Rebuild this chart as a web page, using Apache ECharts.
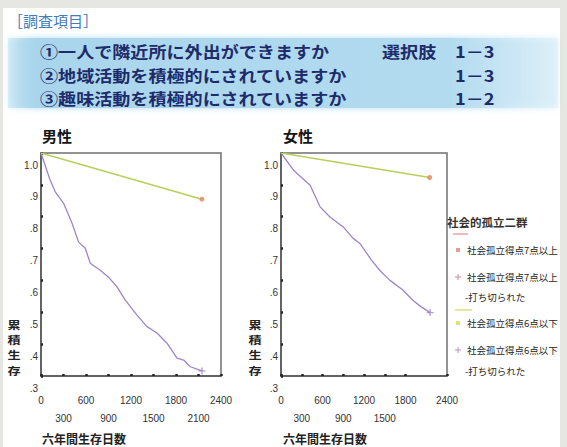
<!DOCTYPE html>
<html>
<head>
<meta charset="utf-8">
<script src="https://cdn.jsdelivr.net/npm/echarts@6/dist/echarts.min.js"></script>
<style>
html,body{margin:0;padding:0;background:#fff;}
#c{width:567px;height:447px;}
</style>
</head>
<body>
<div id="c"></div>
<script>
// ---- data ----
const xTicks = [0, 300, 600, 900, 1200, 1500, 1800, 2100, 2400];
const yTickLabels = ['.3', '.4', '.5', '.6', '.7', '.8', '.9', '1.0'];

const maleHighDays = [0, 114, 190, 301, 413, 500, 590, 657, 790, 897, 1013, 1124, 1280, 1413, 1547, 1680, 1813, 1902, 1991, 2146];
const maleHighSurv = [1.0, 0.920, 0.878, 0.842, 0.780, 0.721, 0.701, 0.654, 0.632, 0.611, 0.580, 0.538, 0.491, 0.455, 0.435, 0.403, 0.356, 0.350, 0.329, 0.316];
const maleLowDays = [0, 2146];
const maleLowSurv = [1.0, 0.855];

const femaleHighDays = [0, 181, 421, 565, 708, 900, 1043, 1140, 1308, 1427, 1571, 1762, 1906, 2027, 2156];
const femaleHighSurv = [1.0, 0.946, 0.899, 0.831, 0.799, 0.768, 0.732, 0.716, 0.664, 0.632, 0.601, 0.570, 0.538, 0.517, 0.499];
const femaleLowDays = [0, 2150];
const femaleLowSurv = [1.0, 0.923];

const panelTitles = ['男性', '女性'];
const yAxisTitle = '累積生存';
const xAxisTitle = '六年間生存日数';
const headerTitle = '［調査項目］';
const questions = ['①一人で隣近所に外出ができますか', '②地域活動を積極的にされていますか', '③趣味活動を積極的にされていますか'];
const choiceHead = '選択肢';
const choices = ['1－3', '1－3', '1－2'];
const legendTitle = '社会的孤立二群';
const legendLabels = ['社会孤立得点7点以上', '社会孤立得点7点以上', '-打ち切られた', '社会孤立得点6点以下', '社会孤立得点6点以下', '-打ち切られた'];

// ---- build ----
const zip = (a, b) => a.map((v, i) => [v, b[i]]);
const last = (a, b) => [[a[a.length - 1], b[b.length - 1]]];
const PLUS = 'path://M4,0H6V4H10V6H6V10H4V6H0V4H4Z';
const CJK = '"Noto Sans CJK JP", "Noto Sans CJK SC", sans-serif';
const NUM = '"Liberation Sans Narrow", "Liberation Sans", Arial, sans-serif';
const purple = '#9c86c8';
const green = '#b7d058';

const grids = [
  { left: 41, top: 153, width: 180, height: 223 },
  { left: 281, top: 153, width: 166, height: 223 }
].map(g => Object.assign(g, { show: true, borderColor: '#707070', borderWidth: 1.5, backgroundColor: 'transparent' }));

function xAxis(i) {
  return {
    gridIndex: i, type: 'value', min: 0, max: 2400, interval: 300,
    axisLine: { show: true, onZero: false, lineStyle: { color: '#555', width: 1.5 } },
    axisTick: { show: true, inside: true, length: 2, lineStyle: { color: '#222', width: 2.5 } },
    splitLine: { show: false },
    axisLabel: {
      margin: 15, fontSize: 10, lineHeight: 18, color: '#333', fontFamily: NUM, verticalAlign: 'top',
      showMinLabel: true, showMaxLabel: true, hideOverlap: false,
      formatter: (v) => { const k = xTicks.indexOf(Math.round(v)); return (k % 2 === 1 ? '\n' : '') + xTicks[k]; }
    }
  };
}
function yAxis(i) {
  return {
    gridIndex: i, type: 'value', min: 0.3, max: 1.0, interval: 0.1,
    axisLine: { show: true, lineStyle: { color: '#555', width: 1.5 } },
    axisTick: { show: true, inside: true, length: 2, lineStyle: { color: '#222', width: 2.5 } },
    splitLine: { show: false },
    axisLabel: {
      margin: 3, fontSize: 10, color: '#333', fontFamily: NUM, verticalAlign: 'top', padding: [7, 0, 0, 0],
      showMinLabel: true, showMaxLabel: true,
      formatter: (v) => yTickLabels[Math.round(v * 10) - 3]
    }
  };
}

function panelSeries(i, hd, hs, ld, ls) {
  return [
    { type: 'line', xAxisIndex: i, yAxisIndex: i, data: zip(hd, hs), symbol: 'none', lineStyle: { color: purple, width: 1.3 }, z: 3 },
    { type: 'line', xAxisIndex: i, yAxisIndex: i, data: zip(ld, ls), symbol: 'none', lineStyle: { color: green, width: 1.5 }, z: 3 },
    { type: 'scatter', xAxisIndex: i, yAxisIndex: i, data: last(hd, hs), symbol: PLUS, symbolSize: 7, itemStyle: { color: purple }, z: 4 },
    { type: 'scatter', xAxisIndex: i, yAxisIndex: i, data: last(ld, ls), symbol: 'circle', symbolSize: 5, itemStyle: { color: '#e58260' }, z: 4 }
  ];
}

const graphic = [
  { type: 'rect', shape: { x: 0, y: 0, width: 567, height: 447 }, style: { fill: '#e6e6e2' }, z: -10 },
  { type: 'rect', shape: { x: 3, y: 8, width: 557, height: 439 }, style: { fill: '#ffffff' }, z: -9 },
  { type: 'rect', shape: { x: 8, y: 38, width: 550, height: 70 },
    style: { fill: new echarts.graphic.LinearGradient(0, 0, 1, 0, [
      { offset: 0, color: 'rgba(170,215,238,0.35)' }, { offset: 0.05, color: '#a9d5ec' },
      { offset: 0.8, color: '#b2dbef' }, { offset: 1, color: 'rgba(215,238,248,0.4)' }]),
      shadowBlur: 6, shadowColor: 'rgba(170,215,238,0.9)' }, z: -8 },
  { type: 'text', x: 8, y: 20, style: { text: headerTitle, fontSize: 15, fill: '#3f7cbc', fontFamily: CJK, verticalAlign: 'middle' } }
];
const HS = 1.13; // horizontal stretch of the header text
questions.forEach((q, k) => {
  const y = 51 + k * 23.5;
  graphic.push({ type: 'text', x: 40, y, scaleX: HS, style: { text: q, fontSize: 16, fontWeight: 'bold', fill: '#1d2b6b', fontFamily: CJK, verticalAlign: 'middle' } });
  if (k === 0) graphic.push({ type: 'text', x: 382, y, scaleX: HS, style: { text: choiceHead, fontSize: 16, fontWeight: 'bold', fill: '#1d2b6b', fontFamily: CJK, verticalAlign: 'middle' } });
  graphic.push({ type: 'text', x: 455, y, scaleX: HS, style: { text: choices[k], fontSize: 16, fontWeight: 'bold', fill: '#1d2b6b', fontFamily: CJK, verticalAlign: 'middle' } });
});
[[42, 14], [283, 255]].forEach(([tx, yx], i) => {
  graphic.push({ type: 'text', x: tx, y: 135, style: { text: panelTitles[i], fontSize: 15, fontWeight: 'bold', fill: '#151515', fontFamily: CJK, verticalAlign: 'middle' } });
  yAxisTitle.split('').forEach((ch, k) => {
    graphic.push({ type: 'text', x: yx, y: 324 + k * 15.3, scaleX: 1.25, style: { text: ch, fontSize: 10.5, fontWeight: 'bold', fill: '#222', fontFamily: CJK, align: 'center', verticalAlign: 'middle' } });
  });
  graphic.push({ type: 'text', x: tx, y: 438, style: { text: xAxisTitle, fontSize: 12, fontWeight: 'bold', fill: '#222', fontFamily: CJK, verticalAlign: 'middle' } });
});
// legend
graphic.push({ type: 'text', x: 447, y: 222, style: { text: legendTitle, fontSize: 11.5, fontWeight: 'bold', fill: '#333', fontFamily: CJK, verticalAlign: 'middle' } });
graphic.push({ type: 'line', shape: { x1: 453, y1: 234, x2: 468, y2: 234 }, style: { stroke: '#e6a4a4', lineWidth: 1.5 } });
graphic.push({ type: 'line', shape: { x1: 455, y1: 310, x2: 472, y2: 310 }, style: { stroke: '#e2de86', lineWidth: 1.5 } });
graphic.push({ type: 'rect', shape: { x: 456, y: 248, width: 4, height: 4 }, style: { fill: '#e79a9a' } });
graphic.push({ type: 'rect', shape: { x: 456, y: 321, width: 4, height: 4 }, style: { fill: '#e6e070' } });
[[458, 277, '#d79aaa'], [458, 350, '#c4a0cc']].forEach(([px, py, c]) => {
  graphic.push({ type: 'line', shape: { x1: px - 3, y1: py, x2: px + 3, y2: py }, style: { stroke: c, lineWidth: 1.2 } });
  graphic.push({ type: 'line', shape: { x1: px, y1: py - 3, x2: px, y2: py + 3 }, style: { stroke: c, lineWidth: 1.2 } });
});
const legendPos = [[467, 250], [467, 277], [465, 297], [467, 323], [467, 350], [465, 371]];
legendLabels.forEach((t, k) => {
  graphic.push({ type: 'text', x: legendPos[k][0], y: legendPos[k][1], style: { text: t, fontSize: 9.5, fill: '#262626', fontFamily: CJK, verticalAlign: 'middle' } });
});

const chart = echarts.init(document.getElementById('c'), null, { renderer: 'svg' });
chart.setOption({
  animation: false,
  backgroundColor: '#ffffff',
  grid: grids,
  xAxis: [xAxis(0), xAxis(1)],
  yAxis: [yAxis(0), yAxis(1)],
  series: [].concat(
    panelSeries(0, maleHighDays, maleHighSurv, maleLowDays, maleLowSurv),
    panelSeries(1, femaleHighDays, femaleHighSurv, femaleLowDays, femaleLowSurv)
  ),
  graphic: graphic
});
</script>
</body>
</html>
